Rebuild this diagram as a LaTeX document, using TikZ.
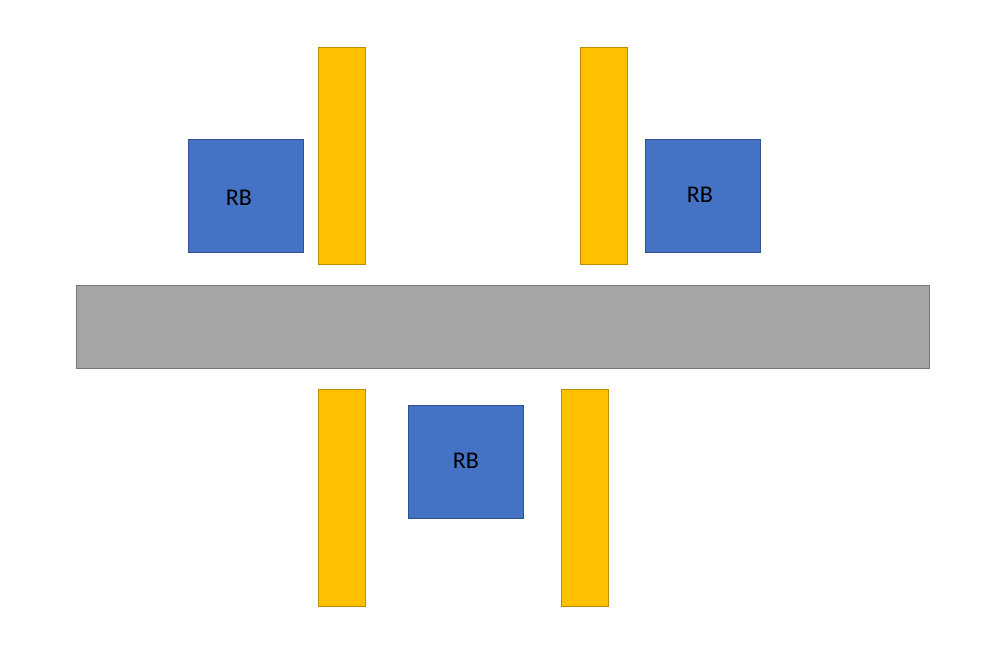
\documentclass[tikz,border=0pt]{standalone}
\usepackage{fontspec}
\setmainfont{Carlito}
\definecolor{rbblue}{HTML}{4472C4}
\definecolor{rbborder}{HTML}{2F528F}
\definecolor{ybar}{HTML}{FFC000}
\definecolor{yborder}{HTML}{BC8C00}
\definecolor{gbar}{HTML}{A5A5A5}
\definecolor{gborder}{HTML}{787878}
\tikzset{
  rbbox/.style={fill=rbblue, draw=rbborder, line width=0.8pt},
  rblabel/.style={font=\fontsize{24}{28}\selectfont, text=black, inner sep=0pt},
  ybox/.style={fill=ybar, draw=yborder, line width=0.8pt},
  gbox/.style={fill=gbar, draw=gborder, line width=0.8pt}
}
\begin{document}
\begin{tikzpicture}[x=1pt,y=-1pt]
\useasboundingbox (0,0) rectangle (989,662);
\fill[white] (0,0) rectangle (989,662);
\draw[gbox] (76,285) rectangle (929,368);
\draw[ybox] (318,47) rectangle (365,264);
\draw[ybox] (580,47) rectangle (627,264);
\draw[ybox] (318,389) rectangle (365,606);
\draw[ybox] (561,389) rectangle (608,606);
\draw[rbbox] (188,139) rectangle (303,252);
\draw[rbbox] (645,139) rectangle (760,252);
\draw[rbbox] (408,405) rectangle (523,518);
\node[rblabel] (rb1) at (239,198) {RB};
\node[rblabel] (rb2) at (700,195) {RB};
\node[rblabel] (rb3) at (466,461) {RB};
\end{tikzpicture}
\end{document}
